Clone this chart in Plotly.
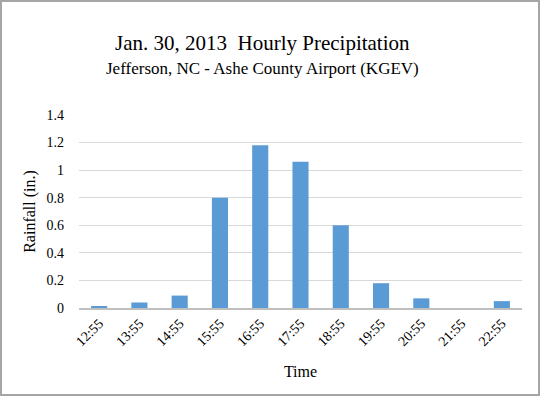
import plotly.graph_objects as go

times = ["12:55", "13:55", "14:55", "15:55", "16:55", "17:55", "18:55", "19:55", "20:55", "21:55", "22:55"]
rainfall = [0.01, 0.04, 0.09, 0.80, 1.18, 1.06, 0.60, 0.18, 0.07, 0.0, 0.05]

W, H = 540, 396
L, R, T, B = 79, 18, 115, 88
pw, ph = W - L - R, H - T - B
FONT = "Liberation Serif"
CX = 262

fig = go.Figure(go.Bar(
    x=times, y=rainfall,
    marker=dict(color="#5B9BD5", line=dict(width=0)),
))

fig.update_layout(
    width=W, height=H,
    margin=dict(l=L, r=R, t=T, b=B, autoexpand=False),
    paper_bgcolor="white", plot_bgcolor="white",
    bargap=0.6,
    showlegend=False,
    font=dict(family=FONT, color="#000000"),
    xaxis=dict(
        automargin=False,
        tickangle=-45, tickfont=dict(size=14, family=FONT),
        showline=True, linecolor="#BFBFBF", linewidth=1.5,
        ticks="", showgrid=False,
        title=dict(text="Time", font=dict(size=16, family=FONT), standoff=18),
    ),
    yaxis=dict(
        automargin=False,
        range=[0, 1.4], dtick=0.2, tickformat="~g",
        tickfont=dict(size=14, family=FONT), ticklabelstandoff=14,
        showgrid=True, gridcolor="#D9D9D9", gridwidth=1,
        zeroline=False, showline=False, ticks="",
        title=dict(text="Rainfall (in.)", font=dict(size=16, family=FONT), standoff=6),
    ),
    annotations=[
        dict(text="Jan. 30, 2013  Hourly Precipitation", xref="paper", yref="paper",
             x=(CX - L) / pw, y=(H - B - 43) / ph, showarrow=False,
             xanchor="center", yanchor="middle", font=dict(size=21, family=FONT)),
        dict(text="Jefferson, NC - Ashe County Airport (KGEV)", xref="paper", yref="paper",
             x=(CX - L) / pw, y=(H - B - 68) / ph, showarrow=False,
             xanchor="center", yanchor="middle", font=dict(size=17, family=FONT)),
    ],
    shapes=[dict(type="rect", xref="paper", yref="paper",
                 x0=(1 - L) / pw, x1=(W - 1 - L) / pw,
                 y0=(-(B - 1)) / ph, y1=(H - B - 1) / ph,
                 line=dict(color="#A6A6A6", width=2), fillcolor="rgba(0,0,0,0)", layer="below")],
)

fig.write_html("out.html", config={"displayModeBar": False},
               post_script="document.body.style.margin='0';document.body.style.overflow='hidden';")
